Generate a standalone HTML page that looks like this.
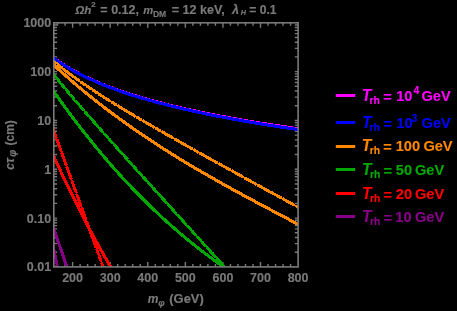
<!DOCTYPE html>
<html><head><meta charset="utf-8"><style>
html,body{margin:0;padding:0;background:#000;width:457px;height:311px;overflow:hidden}
svg{display:block;will-change:transform}
</style></head><body>
<svg width="457" height="311" viewBox="0 0 457 311">
<rect width="457" height="311" fill="#000"/>
<defs><clipPath id="pc"><rect x="53.80" y="22.80" width="244.30" height="244.10"/></clipPath></defs>
<path d="M57.56,266.90 v-3.00 M57.56,22.80 v3.00 M65.08,266.90 v-3.00 M65.08,22.80 v3.00 M72.59,266.90 v-5.00 M72.59,22.80 v5.00 M80.11,266.90 v-3.00 M80.11,22.80 v3.00 M87.63,266.90 v-3.00 M87.63,22.80 v3.00 M95.14,266.90 v-3.00 M95.14,22.80 v3.00 M102.66,266.90 v-3.00 M102.66,22.80 v3.00 M110.18,266.90 v-5.00 M110.18,22.80 v5.00 M117.69,266.90 v-3.00 M117.69,22.80 v3.00 M125.21,266.90 v-3.00 M125.21,22.80 v3.00 M132.73,266.90 v-3.00 M132.73,22.80 v3.00 M140.24,266.90 v-3.00 M140.24,22.80 v3.00 M147.76,266.90 v-5.00 M147.76,22.80 v5.00 M155.28,266.90 v-3.00 M155.28,22.80 v3.00 M162.80,266.90 v-3.00 M162.80,22.80 v3.00 M170.31,266.90 v-3.00 M170.31,22.80 v3.00 M177.83,266.90 v-3.00 M177.83,22.80 v3.00 M185.35,266.90 v-5.00 M185.35,22.80 v5.00 M192.86,266.90 v-3.00 M192.86,22.80 v3.00 M200.38,266.90 v-3.00 M200.38,22.80 v3.00 M207.90,266.90 v-3.00 M207.90,22.80 v3.00 M215.41,266.90 v-3.00 M215.41,22.80 v3.00 M222.93,266.90 v-5.00 M222.93,22.80 v5.00 M230.45,266.90 v-3.00 M230.45,22.80 v3.00 M237.96,266.90 v-3.00 M237.96,22.80 v3.00 M245.48,266.90 v-3.00 M245.48,22.80 v3.00 M253.00,266.90 v-3.00 M253.00,22.80 v3.00 M260.52,266.90 v-5.00 M260.52,22.80 v5.00 M268.03,266.90 v-3.00 M268.03,22.80 v3.00 M275.55,266.90 v-3.00 M275.55,22.80 v3.00 M283.07,266.90 v-3.00 M283.07,22.80 v3.00 M290.58,266.90 v-3.00 M290.58,22.80 v3.00 M53.80,252.20 h3.30 M298.10,252.20 h-3.30 M53.80,243.61 h3.30 M298.10,243.61 h-3.30 M53.80,237.51 h3.30 M298.10,237.51 h-3.30 M53.80,232.78 h3.30 M298.10,232.78 h-3.30 M53.80,228.91 h3.30 M298.10,228.91 h-3.30 M53.80,225.64 h3.30 M298.10,225.64 h-3.30 M53.80,222.81 h3.30 M298.10,222.81 h-3.30 M53.80,220.31 h3.30 M298.10,220.31 h-3.30 M53.80,218.08 h3.30 M298.10,218.08 h-3.30 M53.80,203.38 h3.30 M298.10,203.38 h-3.30 M53.80,194.79 h3.30 M298.10,194.79 h-3.30 M53.80,188.69 h3.30 M298.10,188.69 h-3.30 M53.80,183.96 h3.30 M298.10,183.96 h-3.30 M53.80,180.09 h3.30 M298.10,180.09 h-3.30 M53.80,176.82 h3.30 M298.10,176.82 h-3.30 M53.80,173.99 h3.30 M298.10,173.99 h-3.30 M53.80,171.49 h3.30 M298.10,171.49 h-3.30 M53.80,169.26 h3.30 M298.10,169.26 h-3.30 M53.80,154.56 h3.30 M298.10,154.56 h-3.30 M53.80,145.97 h3.30 M298.10,145.97 h-3.30 M53.80,139.87 h3.30 M298.10,139.87 h-3.30 M53.80,135.14 h3.30 M298.10,135.14 h-3.30 M53.80,131.27 h3.30 M298.10,131.27 h-3.30 M53.80,128.00 h3.30 M298.10,128.00 h-3.30 M53.80,125.17 h3.30 M298.10,125.17 h-3.30 M53.80,122.67 h3.30 M298.10,122.67 h-3.30 M53.80,120.44 h3.30 M298.10,120.44 h-3.30 M53.80,105.74 h3.30 M298.10,105.74 h-3.30 M53.80,97.15 h3.30 M298.10,97.15 h-3.30 M53.80,91.05 h3.30 M298.10,91.05 h-3.30 M53.80,86.32 h3.30 M298.10,86.32 h-3.30 M53.80,82.45 h3.30 M298.10,82.45 h-3.30 M53.80,79.18 h3.30 M298.10,79.18 h-3.30 M53.80,76.35 h3.30 M298.10,76.35 h-3.30 M53.80,73.85 h3.30 M298.10,73.85 h-3.30 M53.80,71.62 h3.30 M298.10,71.62 h-3.30 M53.80,56.92 h3.30 M298.10,56.92 h-3.30 M53.80,48.33 h3.30 M298.10,48.33 h-3.30 M53.80,42.23 h3.30 M298.10,42.23 h-3.30 M53.80,37.50 h3.30 M298.10,37.50 h-3.30 M53.80,33.63 h3.30 M298.10,33.63 h-3.30 M53.80,30.36 h3.30 M298.10,30.36 h-3.30 M53.80,27.53 h3.30 M298.10,27.53 h-3.30 M53.80,25.03 h3.30 M298.10,25.03 h-3.30" stroke="#7a7a7a" stroke-width="1.4" fill="none"/>
<g clip-path="url(#pc)" fill="none" stroke-linejoin="round" shape-rendering="crispEdges">
<path d="M51.80,56.32 L53.89,57.92 L55.97,59.45 L58.06,60.94 L60.15,62.37 L62.23,63.76 L64.32,65.10 L66.41,66.40 L68.49,67.66 L70.58,68.89 L72.67,70.08 L74.75,71.24 L76.84,72.37 L78.93,73.47 L81.01,74.54 L83.10,75.58 L85.18,76.60 L87.27,77.60 L89.36,78.57 L91.44,79.52 L93.53,80.45 L95.62,81.36 L97.70,82.25 L99.79,83.13 L101.88,83.98 L103.96,84.82 L106.05,85.64 L108.14,86.45 L110.22,87.24 L112.31,88.01 L114.40,88.78 L116.48,89.52 L118.57,90.26 L120.66,90.98 L122.74,91.69 L124.83,92.39 L126.92,93.08 L129.00,93.76 L131.09,94.43 L133.18,95.08 L135.26,95.73 L137.35,96.36 L139.44,96.99 L141.52,97.61 L143.61,98.22 L145.69,98.82 L147.78,99.41 L149.87,99.99 L151.95,100.57 L154.04,101.14 L156.13,101.70 L158.21,102.25 L160.30,102.80 L162.39,103.33 L164.47,103.87 L166.56,104.39 L168.65,104.91 L170.73,105.42 L172.82,105.93 L174.91,106.43 L176.99,106.93 L179.08,107.41 L181.17,107.90 L183.25,108.38 L185.34,108.85 L187.43,109.32 L189.51,109.78 L191.60,110.24 L193.69,110.69 L195.77,111.14 L197.86,111.58 L199.95,112.02 L202.03,112.45 L204.12,112.88 L206.21,113.30 L208.29,113.73 L210.38,114.14 L212.46,114.56 L214.55,114.96 L216.64,115.37 L218.72,115.77 L220.81,116.17 L222.90,116.56 L224.98,116.95 L227.07,117.34 L229.16,117.72 L231.24,118.10 L233.33,118.47 L235.42,118.85 L237.50,119.22 L239.59,119.58 L241.68,119.94 L243.76,120.30 L245.85,120.66 L247.94,121.01 L250.02,121.37 L252.11,121.71 L254.20,122.06 L256.28,122.40 L258.37,122.74 L260.46,123.08 L262.54,123.41 L264.63,123.74 L266.72,124.07 L268.80,124.40 L270.89,124.72 L272.97,125.04 L275.06,125.36 L277.15,125.68 L279.23,125.99 L281.32,126.31 L283.41,126.62 L285.49,126.92 L287.58,127.23 L289.67,127.53 L291.75,127.83 L293.84,128.13 L295.93,128.43 L298.01,128.72 L300.10,129.01" stroke="#ff00ff" stroke-width="3.10"/>
<path d="M51.80,56.46 L53.89,58.06 L55.97,59.61 L58.06,61.10 L60.15,62.54 L62.23,63.93 L64.32,65.28 L66.41,66.59 L68.49,67.86 L70.58,69.09 L72.67,70.29 L74.75,71.45 L76.84,72.59 L78.93,73.69 L81.01,74.77 L83.10,75.82 L85.18,76.84 L87.27,77.85 L89.36,78.82 L91.44,79.78 L93.53,80.72 L95.62,81.63 L97.70,82.53 L99.79,83.41 L101.88,84.27 L103.96,85.11 L106.05,85.94 L108.14,86.75 L110.22,87.55 L112.31,88.33 L114.40,89.10 L116.48,89.85 L118.57,90.60 L120.66,91.33 L122.74,92.04 L124.83,92.75 L126.92,93.44 L129.00,94.12 L131.09,94.80 L133.18,95.46 L135.26,96.11 L137.35,96.75 L139.44,97.39 L141.52,98.01 L143.61,98.62 L145.69,99.23 L147.78,99.83 L149.87,100.42 L151.95,101.00 L154.04,101.57 L156.13,102.14 L158.21,102.70 L160.30,103.25 L162.39,103.79 L164.47,104.33 L166.56,104.86 L168.65,105.39 L170.73,105.91 L172.82,106.42 L174.91,106.93 L176.99,107.43 L179.08,107.92 L181.17,108.41 L183.25,108.90 L185.34,109.38 L187.43,109.85 L189.51,110.32 L191.60,110.78 L193.69,111.24 L195.77,111.69 L197.86,112.14 L199.95,112.59 L202.03,113.03 L204.12,113.46 L206.21,113.89 L208.29,114.32 L210.38,114.74 L212.46,115.16 L214.55,115.57 L216.64,115.98 L218.72,116.39 L220.81,116.79 L222.90,117.19 L224.98,117.59 L227.07,117.98 L229.16,118.37 L231.24,118.76 L233.33,119.14 L235.42,119.52 L237.50,119.89 L239.59,120.26 L241.68,120.63 L243.76,121.00 L245.85,121.36 L247.94,121.72 L250.02,122.08 L252.11,122.43 L254.20,122.78 L256.28,123.13 L258.37,123.48 L260.46,123.82 L262.54,124.16 L264.63,124.50 L266.72,124.83 L268.80,125.16 L270.89,125.49 L272.97,125.82 L275.06,126.15 L277.15,126.47 L279.23,126.79 L281.32,127.11 L283.41,127.42 L285.49,127.74 L287.58,128.05 L289.67,128.36 L291.75,128.66 L293.84,128.97 L295.93,129.27 L298.01,129.57 L300.10,129.87" stroke="#0000ff" stroke-width="3.10"/>
<path d="M51.80,63.24 L53.89,65.16 L55.97,67.06 L58.06,68.95 L60.15,70.82 L62.23,72.68 L64.32,74.53 L66.41,76.36 L68.49,78.18 L70.58,79.99 L72.67,81.78 L74.75,83.56 L76.84,85.32 L78.93,87.08 L81.01,88.82 L83.10,90.54 L85.18,92.26 L87.27,93.96 L89.36,95.65 L91.44,97.33 L93.53,98.99 L95.62,100.65 L97.70,102.29 L99.79,103.92 L101.88,105.54 L103.96,107.14 L106.05,108.74 L108.14,110.32 L110.22,111.90 L112.31,113.46 L114.40,115.01 L116.48,116.55 L118.57,118.08 L120.66,119.60 L122.74,121.11 L124.83,122.61 L126.92,124.10 L129.00,125.58 L131.09,127.05 L133.18,128.51 L135.26,129.96 L137.35,131.40 L139.44,132.84 L141.52,134.26 L143.61,135.67 L145.69,137.08 L147.78,138.47 L149.87,139.86 L151.95,141.24 L154.04,142.61 L156.13,143.97 L158.21,145.33 L160.30,146.67 L162.39,148.01 L164.47,149.34 L166.56,150.67 L168.65,151.98 L170.73,153.29 L172.82,154.59 L174.91,155.89 L176.99,157.17 L179.08,158.45 L181.17,159.73 L183.25,161.00 L185.34,162.26 L187.43,163.51 L189.51,164.76 L191.60,166.00 L193.69,167.24 L195.77,168.47 L197.86,169.69 L199.95,170.91 L202.03,172.12 L204.12,173.33 L206.21,174.53 L208.29,175.73 L210.38,176.93 L212.46,178.11 L214.55,179.30 L216.64,180.48 L218.72,181.65 L220.81,182.82 L222.90,183.99 L224.98,185.15 L227.07,186.31 L229.16,187.46 L231.24,188.61 L233.33,189.76 L235.42,190.90 L237.50,192.04 L239.59,193.18 L241.68,194.32 L243.76,195.45 L245.85,196.58 L247.94,197.70 L250.02,198.83 L252.11,199.95 L254.20,201.07 L256.28,202.18 L258.37,203.30 L260.46,204.41 L262.54,205.52 L264.63,206.63 L266.72,207.74 L268.80,208.85 L270.89,209.95 L272.97,211.06 L275.06,212.16 L277.15,213.26 L279.23,214.37 L281.32,215.47 L283.41,216.57 L285.49,217.67 L287.58,218.77 L289.67,219.87 L291.75,220.97 L293.84,222.07 L295.93,223.17 L298.01,224.27 L300.10,225.38" stroke="#ff8800" stroke-width="3.10"/>
<path d="M51.80,59.36 L53.89,61.21 L55.97,63.01 L58.06,64.76 L60.15,66.48 L62.23,68.17 L64.32,69.82 L66.41,71.44 L68.49,73.03 L70.58,74.59 L72.67,76.14 L74.75,77.66 L76.84,79.15 L78.93,80.63 L81.01,82.09 L83.10,83.54 L85.18,84.97 L87.27,86.38 L89.36,87.78 L91.44,89.17 L93.53,90.54 L95.62,91.90 L97.70,93.26 L99.79,94.60 L101.88,95.93 L103.96,97.25 L106.05,98.57 L108.14,99.87 L110.22,101.17 L112.31,102.46 L114.40,103.75 L116.48,105.03 L118.57,106.30 L120.66,107.56 L122.74,108.82 L124.83,110.08 L126.92,111.33 L129.00,112.57 L131.09,113.81 L133.18,115.05 L135.26,116.28 L137.35,117.51 L139.44,118.74 L141.52,119.96 L143.61,121.17 L145.69,122.39 L147.78,123.60 L149.87,124.81 L151.95,126.01 L154.04,127.21 L156.13,128.41 L158.21,129.61 L160.30,130.81 L162.39,132.00 L164.47,133.19 L166.56,134.38 L168.65,135.56 L170.73,136.75 L172.82,137.93 L174.91,139.11 L176.99,140.29 L179.08,141.47 L181.17,142.64 L183.25,143.82 L185.34,144.99 L187.43,146.16 L189.51,147.33 L191.60,148.50 L193.69,149.67 L195.77,150.84 L197.86,152.00 L199.95,153.16 L202.03,154.33 L204.12,155.49 L206.21,156.65 L208.29,157.81 L210.38,158.97 L212.46,160.13 L214.55,161.29 L216.64,162.44 L218.72,163.60 L220.81,164.75 L222.90,165.91 L224.98,167.06 L227.07,168.21 L229.16,169.37 L231.24,170.52 L233.33,171.67 L235.42,172.82 L237.50,173.97 L239.59,175.12 L241.68,176.27 L243.76,177.42 L245.85,178.56 L247.94,179.71 L250.02,180.86 L252.11,182.01 L254.20,183.15 L256.28,184.30 L258.37,185.44 L260.46,186.59 L262.54,187.73 L264.63,188.88 L266.72,190.02 L268.80,191.16 L270.89,192.31 L272.97,193.45 L275.06,194.59 L277.15,195.73 L279.23,196.88 L281.32,198.02 L283.41,199.16 L285.49,200.30 L287.58,201.44 L289.67,202.58 L291.75,203.72 L293.84,204.86 L295.93,206.00 L298.01,207.14 L300.10,208.28" stroke="#ff8800" stroke-width="1.60"/>
<path d="M51.80,59.36 L53.89,61.21 L55.97,63.01 L58.06,64.76 L60.15,66.48 L62.23,68.17 L64.32,69.82 L66.41,71.44 L68.49,73.03 L70.58,74.59 L72.67,76.14 L74.75,77.66 L76.84,79.15 L78.93,80.63 L81.01,82.09 L83.10,83.54 L85.18,84.97 L87.27,86.38 L89.36,87.78 L91.44,89.17 L93.53,90.54 L95.62,91.90 L97.70,93.26 L99.79,94.60 L101.88,95.93 L103.96,97.25 L106.05,98.57 L108.14,99.87 L110.22,101.17 L112.31,102.46 L114.40,103.75 L116.48,105.03 L118.57,106.30 L120.66,107.56 L122.74,108.82 L124.83,110.08 L126.92,111.33 L129.00,112.57 L131.09,113.81 L133.18,115.05 L135.26,116.28 L137.35,117.51 L139.44,118.74 L141.52,119.96 L143.61,121.17 L145.69,122.39 L147.78,123.60 L149.87,124.81 L151.95,126.01 L154.04,127.21 L156.13,128.41 L158.21,129.61 L160.30,130.81 L162.39,132.00 L164.47,133.19 L166.56,134.38 L168.65,135.56 L170.73,136.75 L172.82,137.93 L174.91,139.11 L176.99,140.29 L179.08,141.47 L181.17,142.64 L183.25,143.82 L185.34,144.99 L187.43,146.16 L189.51,147.33 L191.60,148.50 L193.69,149.67 L195.77,150.84 L197.86,152.00 L199.95,153.16 L202.03,154.33 L204.12,155.49 L206.21,156.65 L208.29,157.81 L210.38,158.97 L212.46,160.13 L214.55,161.29 L216.64,162.44 L218.72,163.60 L220.81,164.75 L222.90,165.91 L224.98,167.06 L227.07,168.21 L229.16,169.37 L231.24,170.52 L233.33,171.67 L235.42,172.82 L237.50,173.97 L239.59,175.12 L241.68,176.27 L243.76,177.42 L245.85,178.56 L247.94,179.71 L250.02,180.86 L252.11,182.01 L254.20,183.15 L256.28,184.30 L258.37,185.44 L260.46,186.59 L262.54,187.73 L264.63,188.88 L266.72,190.02 L268.80,191.16 L270.89,192.31 L272.97,193.45 L275.06,194.59 L277.15,195.73 L279.23,196.88 L281.32,198.02 L283.41,199.16 L285.49,200.30 L287.58,201.44 L289.67,202.58 L291.75,203.72 L293.84,204.86 L295.93,206.00 L298.01,207.14 L300.10,208.28" stroke="#ff8800" stroke-width="3.00" stroke-dasharray="6.5 0.8"/>
<path d="M51.80,88.56 L53.89,91.56 L55.97,94.54 L58.06,97.49 L60.15,100.42 L62.23,103.32 L64.32,106.20 L66.41,109.06 L68.49,111.90 L70.58,114.71 L72.67,117.50 L74.75,120.27 L76.84,123.01 L78.93,125.73 L81.01,128.44 L83.10,131.11 L85.18,133.77 L87.27,136.41 L89.36,139.02 L91.44,141.61 L93.53,144.18 L95.62,146.73 L97.70,149.26 L99.79,151.76 L101.88,154.25 L103.96,156.71 L106.05,159.16 L108.14,161.58 L110.22,163.98 L112.31,166.36 L114.40,168.73 L116.48,171.07 L118.57,173.39 L120.66,175.69 L122.74,177.97 L124.83,180.23 L126.92,182.48 L129.00,184.70 L131.09,186.90 L133.18,189.09 L135.26,191.25 L137.35,193.40 L139.44,195.53 L141.52,197.63 L143.61,199.72 L145.69,201.80 L147.78,203.85 L149.87,205.88 L151.95,207.90 L154.04,209.90 L156.13,211.88 L158.21,213.84 L160.30,215.79 L162.39,217.72 L164.47,219.63 L166.56,221.52 L168.65,223.39 L170.73,225.25 L172.82,227.09 L174.91,228.92 L176.99,230.73 L179.08,232.52 L181.17,234.29 L183.25,236.05 L185.34,237.79 L187.43,239.52 L189.51,241.23 L191.60,242.92 L193.69,244.60 L195.77,246.26 L197.86,247.91 L199.95,249.54 L202.03,251.16 L204.12,252.76 L206.21,254.34 L208.29,255.92 L210.38,257.47 L212.46,259.01 L214.55,260.54 L216.64,262.05 L218.72,263.55 L220.81,265.03 L222.90,266.50 L224.98,267.96 L227.07,269.40 L229.16,270.83 L231.24,272.24 L233.33,273.64 L235.42,275.03 L237.50,276.41 L239.59,277.77 L241.68,279.11 L243.76,280.45 L245.85,281.77 L247.94,283.08 L250.02,284.38 L252.11,285.66 L254.20,286.93 L256.28,288.19 L258.37,289.44 L260.46,290.68 L262.54,291.90 L264.63,293.11 L266.72,294.31 L268.80,295.50 L270.89,296.68 L272.97,297.84 L275.06,299.00 L277.15,300.14 L279.23,301.27 L281.32,302.40 L283.41,303.51 L285.49,304.61 L287.58,305.70 L289.67,306.78 L291.75,307.85 L293.84,308.91 L295.93,309.96 L298.01,311.00 L300.10,312.03" stroke="#00a800" stroke-width="3.10"/>
<path d="M51.80,72.14 L53.89,74.77 L55.97,77.38 L58.06,79.96 L60.15,82.52 L62.23,85.05 L64.32,87.57 L66.41,90.07 L68.49,92.55 L70.58,95.02 L72.67,97.47 L74.75,99.92 L76.84,102.35 L78.93,104.77 L81.01,107.18 L83.10,109.59 L85.18,111.99 L87.27,114.38 L89.36,116.76 L91.44,119.14 L93.53,121.51 L95.62,123.88 L97.70,126.24 L99.79,128.60 L101.88,130.95 L103.96,133.30 L106.05,135.65 L108.14,137.99 L110.22,140.33 L112.31,142.67 L114.40,145.00 L116.48,147.34 L118.57,149.67 L120.66,151.99 L122.74,154.32 L124.83,156.65 L126.92,158.97 L129.00,161.29 L131.09,163.61 L133.18,165.93 L135.26,168.24 L137.35,170.56 L139.44,172.87 L141.52,175.19 L143.61,177.50 L145.69,179.81 L147.78,182.12 L149.87,184.43 L151.95,186.74 L154.04,189.05 L156.13,191.36 L158.21,193.67 L160.30,195.97 L162.39,198.28 L164.47,200.59 L166.56,202.89 L168.65,205.20 L170.73,207.50 L172.82,209.81 L174.91,212.11 L176.99,214.41 L179.08,216.72 L181.17,219.02 L183.25,221.33 L185.34,223.63 L187.43,225.93 L189.51,228.23 L191.60,230.54 L193.69,232.84 L195.77,235.14 L197.86,237.45 L199.95,239.75 L202.03,242.05 L204.12,244.35 L206.21,246.66 L208.29,248.96 L210.38,251.26 L212.46,253.56 L214.55,255.86 L216.64,258.17 L218.72,260.47 L220.81,262.77 L222.90,265.08 L224.98,267.38 L227.07,269.68 L229.16,271.98 L231.24,274.29 L233.33,276.59 L235.42,278.89 L237.50,281.20 L239.59,283.50 L241.68,285.80 L243.76,288.10 L245.85,290.41 L247.94,292.71 L250.02,295.02 L252.11,297.32 L254.20,299.62 L256.28,301.93 L258.37,304.23 L260.46,306.54 L262.54,308.84 L264.63,311.15 L266.72,313.45 L268.80,315.75 L270.89,318.06 L272.97,320.36 L275.06,322.67 L277.15,324.98 L279.23,327.28 L281.32,329.59 L283.41,331.89 L285.49,334.20 L287.58,336.50 L289.67,338.81 L291.75,341.12 L293.84,343.42 L295.93,345.73 L298.01,348.04 L300.10,350.34" stroke="#00a800" stroke-width="1.60"/>
<path d="M51.80,72.14 L53.89,74.77 L55.97,77.38 L58.06,79.96 L60.15,82.52 L62.23,85.05 L64.32,87.57 L66.41,90.07 L68.49,92.55 L70.58,95.02 L72.67,97.47 L74.75,99.92 L76.84,102.35 L78.93,104.77 L81.01,107.18 L83.10,109.59 L85.18,111.99 L87.27,114.38 L89.36,116.76 L91.44,119.14 L93.53,121.51 L95.62,123.88 L97.70,126.24 L99.79,128.60 L101.88,130.95 L103.96,133.30 L106.05,135.65 L108.14,137.99 L110.22,140.33 L112.31,142.67 L114.40,145.00 L116.48,147.34 L118.57,149.67 L120.66,151.99 L122.74,154.32 L124.83,156.65 L126.92,158.97 L129.00,161.29 L131.09,163.61 L133.18,165.93 L135.26,168.24 L137.35,170.56 L139.44,172.87 L141.52,175.19 L143.61,177.50 L145.69,179.81 L147.78,182.12 L149.87,184.43 L151.95,186.74 L154.04,189.05 L156.13,191.36 L158.21,193.67 L160.30,195.97 L162.39,198.28 L164.47,200.59 L166.56,202.89 L168.65,205.20 L170.73,207.50 L172.82,209.81 L174.91,212.11 L176.99,214.41 L179.08,216.72 L181.17,219.02 L183.25,221.33 L185.34,223.63 L187.43,225.93 L189.51,228.23 L191.60,230.54 L193.69,232.84 L195.77,235.14 L197.86,237.45 L199.95,239.75 L202.03,242.05 L204.12,244.35 L206.21,246.66 L208.29,248.96 L210.38,251.26 L212.46,253.56 L214.55,255.86 L216.64,258.17 L218.72,260.47 L220.81,262.77 L222.90,265.08 L224.98,267.38 L227.07,269.68 L229.16,271.98 L231.24,274.29 L233.33,276.59 L235.42,278.89 L237.50,281.20 L239.59,283.50 L241.68,285.80 L243.76,288.10 L245.85,290.41 L247.94,292.71 L250.02,295.02 L252.11,297.32 L254.20,299.62 L256.28,301.93 L258.37,304.23 L260.46,306.54 L262.54,308.84 L264.63,311.15 L266.72,313.45 L268.80,315.75 L270.89,318.06 L272.97,320.36 L275.06,322.67 L277.15,324.98 L279.23,327.28 L281.32,329.59 L283.41,331.89 L285.49,334.20 L287.58,336.50 L289.67,338.81 L291.75,341.12 L293.84,343.42 L295.93,345.73 L298.01,348.04 L300.10,350.34" stroke="#00a800" stroke-width="3.00" stroke-dasharray="6.5 0.8"/>
<path d="M51.80,152.08 L53.89,156.65 L55.97,161.19 L58.06,165.69 L60.15,170.15 L62.23,174.58 L64.32,178.97 L66.41,183.32 L68.49,187.64 L70.58,191.92 L72.67,196.16 L74.75,200.36 L76.84,204.53 L78.93,208.66 L81.01,212.76 L83.10,216.81 L85.18,220.84 L87.27,224.82 L89.36,228.77 L91.44,232.68 L93.53,236.55 L95.62,240.39 L97.70,244.19 L99.79,247.95 L101.88,251.67 L103.96,255.36 L106.05,259.01 L108.14,262.63 L110.22,266.21 L112.31,269.75 L114.40,273.25 L116.48,276.72 L118.57,280.15 L120.66,283.54 L122.74,286.90 L124.83,290.22 L126.92,293.50 L129.00,296.75 L131.09,299.96 L133.18,303.13 L135.26,306.27 L137.35,309.36 L139.44,312.43 L141.52,315.45 L143.61,318.44 L145.69,321.39 L147.78,324.30 L149.87,327.18 L151.95,330.02 L154.04,332.82 L156.13,335.59 L158.21,338.32 L160.30,341.01 L162.39,343.67 L164.47,346.28 L166.56,348.87 L168.65,351.41 L170.73,353.92 L172.82,356.39 L174.91,358.82 L176.99,361.22 L179.08,363.58 L181.17,365.91 L183.25,368.19 L185.34,370.44 L187.43,372.66 L189.51,374.83 L191.60,376.97 L193.69,379.07 L195.77,381.14 L197.86,383.17 L199.95,385.16 L202.03,387.11 L204.12,389.03 L206.21,390.91 L208.29,392.75 L210.38,394.56 L212.46,396.33 L214.55,398.06 L216.64,399.76 L218.72,401.42 L220.81,403.04 L222.90,404.63 L224.98,406.18 L227.07,407.69 L229.16,409.16 L231.24,410.60 L233.33,412.00 L235.42,413.37 L237.50,414.69 L239.59,415.98 L241.68,417.24 L243.76,418.45 L245.85,419.63 L247.94,420.78 L250.02,421.88 L252.11,422.95 L254.20,423.98 L256.28,424.98 L258.37,425.94 L260.46,426.86 L262.54,427.74 L264.63,428.59 L266.72,429.40 L268.80,430.18 L270.89,430.91 L272.97,431.61 L275.06,432.28 L277.15,432.90 L279.23,433.49 L281.32,434.04 L283.41,434.56 L285.49,435.04 L287.58,435.48 L289.67,435.89 L291.75,436.25 L293.84,436.58 L295.93,436.88 L298.01,437.14 L300.10,437.36" stroke="#ff0000" stroke-width="3.10"/>
<path d="M51.80,125.28 L53.89,131.07 L55.97,136.85 L58.06,142.63 L60.15,148.40 L62.23,154.17 L64.32,159.94 L66.41,165.70 L68.49,171.46 L70.58,177.22 L72.67,182.98 L74.75,188.74 L76.84,194.50 L78.93,200.25 L81.01,206.01 L83.10,211.77 L85.18,217.52 L87.27,223.28 L89.36,229.03 L91.44,234.79 L93.53,240.55 L95.62,246.31 L97.70,252.07 L99.79,257.83 L101.88,263.59 L103.96,269.35 L106.05,275.11 L108.14,280.87 L110.22,286.64 L112.31,292.40 L114.40,298.17 L116.48,303.93 L118.57,309.70 L120.66,315.47 L122.74,321.24 L124.83,327.01 L126.92,332.78 L129.00,338.55 L131.09,344.32 L133.18,350.09 L135.26,355.87 L137.35,361.64 L139.44,367.42 L141.52,373.20 L143.61,378.98 L145.69,384.76 L147.78,390.54 L149.87,396.32 L151.95,402.10 L154.04,407.88 L156.13,413.66 L158.21,419.45 L160.30,425.23 L162.39,431.02 L164.47,436.81 L166.56,442.59 L168.65,448.38 L170.73,454.17 L172.82,459.96 L174.91,465.75 L176.99,471.54 L179.08,477.33 L181.17,483.13 L183.25,488.92 L185.34,494.72 L187.43,500.51 L189.51,506.31 L191.60,512.10 L193.69,517.90 L195.77,523.70 L197.86,529.50 L199.95,535.30 L202.03,541.09 L204.12,546.90 L206.21,552.70 L208.29,558.50 L210.38,564.30 L212.46,570.10 L214.55,575.91 L216.64,581.71 L218.72,587.52 L220.81,593.32 L222.90,599.13 L224.98,604.93 L227.07,610.74 L229.16,616.55 L231.24,622.35 L233.33,628.16 L235.42,633.97 L237.50,639.78 L239.59,645.59 L241.68,651.40 L243.76,657.21 L245.85,663.02 L247.94,668.84 L250.02,674.65 L252.11,680.46 L254.20,686.28 L256.28,692.09 L258.37,697.90 L260.46,703.72 L262.54,709.53 L264.63,715.35 L266.72,721.17 L268.80,726.98 L270.89,732.80 L272.97,738.62 L275.06,744.44 L277.15,750.25 L279.23,756.07 L281.32,761.89 L283.41,767.71 L285.49,773.53 L287.58,779.35 L289.67,785.17 L291.75,790.99 L293.84,796.81 L295.93,802.64 L298.01,808.46 L300.10,814.28" stroke="#ff0000" stroke-width="1.60"/>
<path d="M51.80,125.28 L53.89,131.07 L55.97,136.85 L58.06,142.63 L60.15,148.40 L62.23,154.17 L64.32,159.94 L66.41,165.70 L68.49,171.46 L70.58,177.22 L72.67,182.98 L74.75,188.74 L76.84,194.50 L78.93,200.25 L81.01,206.01 L83.10,211.77 L85.18,217.52 L87.27,223.28 L89.36,229.03 L91.44,234.79 L93.53,240.55 L95.62,246.31 L97.70,252.07 L99.79,257.83 L101.88,263.59 L103.96,269.35 L106.05,275.11 L108.14,280.87 L110.22,286.64 L112.31,292.40 L114.40,298.17 L116.48,303.93 L118.57,309.70 L120.66,315.47 L122.74,321.24 L124.83,327.01 L126.92,332.78 L129.00,338.55 L131.09,344.32 L133.18,350.09 L135.26,355.87 L137.35,361.64 L139.44,367.42 L141.52,373.20 L143.61,378.98 L145.69,384.76 L147.78,390.54 L149.87,396.32 L151.95,402.10 L154.04,407.88 L156.13,413.66 L158.21,419.45 L160.30,425.23 L162.39,431.02 L164.47,436.81 L166.56,442.59 L168.65,448.38 L170.73,454.17 L172.82,459.96 L174.91,465.75 L176.99,471.54 L179.08,477.33 L181.17,483.13 L183.25,488.92 L185.34,494.72 L187.43,500.51 L189.51,506.31 L191.60,512.10 L193.69,517.90 L195.77,523.70 L197.86,529.50 L199.95,535.30 L202.03,541.09 L204.12,546.90 L206.21,552.70 L208.29,558.50 L210.38,564.30 L212.46,570.10 L214.55,575.91 L216.64,581.71 L218.72,587.52 L220.81,593.32 L222.90,599.13 L224.98,604.93 L227.07,610.74 L229.16,616.55 L231.24,622.35 L233.33,628.16 L235.42,633.97 L237.50,639.78 L239.59,645.59 L241.68,651.40 L243.76,657.21 L245.85,663.02 L247.94,668.84 L250.02,674.65 L252.11,680.46 L254.20,686.28 L256.28,692.09 L258.37,697.90 L260.46,703.72 L262.54,709.53 L264.63,715.35 L266.72,721.17 L268.80,726.98 L270.89,732.80 L272.97,738.62 L275.06,744.44 L277.15,750.25 L279.23,756.07 L281.32,761.89 L283.41,767.71 L285.49,773.53 L287.58,779.35 L289.67,785.17 L291.75,790.99 L293.84,796.81 L295.93,802.64 L298.01,808.46 L300.10,814.28" stroke="#ff0000" stroke-width="3.00" stroke-dasharray="6.5 0.8"/>
<path d="M51.80,223.23 L53.89,229.26 L55.97,235.29 L58.06,241.32 L60.15,247.36 L62.23,253.39 L64.32,259.42 L66.41,265.45 L68.49,271.48 L70.58,277.52 L72.67,283.55 L74.75,289.58 L76.84,295.61 L78.93,301.64 L81.01,307.67 L83.10,313.71 L85.18,319.74 L87.27,325.77 L89.36,331.80 L91.44,337.83 L93.53,343.86 L95.62,349.90 L97.70,355.93 L99.79,361.96 L101.88,367.99 L103.96,374.02 L106.05,380.05 L108.14,386.09 L110.22,392.12 L112.31,398.15 L114.40,404.18 L116.48,410.21 L118.57,416.25 L120.66,422.28 L122.74,428.31 L124.83,434.34 L126.92,440.37 L129.00,446.40 L131.09,452.44 L133.18,458.47 L135.26,464.50 L137.35,470.53 L139.44,476.56 L141.52,482.59 L143.61,488.63 L145.69,494.66 L147.78,500.69 L149.87,506.72 L151.95,512.75 L154.04,518.79 L156.13,524.82 L158.21,530.85 L160.30,536.88 L162.39,542.91 L164.47,548.94 L166.56,554.98 L168.65,561.01 L170.73,567.04 L172.82,573.07 L174.91,579.10 L176.99,585.13 L179.08,591.17 L181.17,597.20 L183.25,603.23 L185.34,609.26 L187.43,615.29 L189.51,621.33 L191.60,627.36 L193.69,633.39 L195.77,639.42 L197.86,645.45 L199.95,651.48 L202.03,657.52 L204.12,663.55 L206.21,669.58 L208.29,675.61 L210.38,681.64 L212.46,687.67 L214.55,693.71 L216.64,699.74 L218.72,705.77 L220.81,711.80 L222.90,717.83 L224.98,723.87 L227.07,729.90 L229.16,735.93 L231.24,741.96 L233.33,747.99 L235.42,754.02 L237.50,760.06 L239.59,766.09 L241.68,772.12 L243.76,778.15 L245.85,784.18 L247.94,790.21 L250.02,796.25 L252.11,802.28 L254.20,808.31 L256.28,814.34 L258.37,820.37 L260.46,826.40 L262.54,832.44 L264.63,838.47 L266.72,844.50 L268.80,850.53 L270.89,856.56 L272.97,862.60 L275.06,868.63 L277.15,874.66 L279.23,880.69 L281.32,886.72 L283.41,892.75 L285.49,898.79 L287.58,904.82 L289.67,910.85 L291.75,916.88 L293.84,922.91 L295.93,928.94 L298.01,934.98 L300.10,941.01" stroke="#880088" stroke-width="3.10"/>
<path d="M51.80,234.41 L53.89,247.01 L55.97,259.60 L58.06,272.19 L60.15,284.78 L62.23,297.37 L64.32,309.96 L66.41,322.55 L68.49,335.14 L70.58,347.74 L72.67,360.33 L74.75,372.92 L76.84,385.51 L78.93,398.10 L81.01,410.69 L83.10,423.28 L85.18,435.87 L87.27,448.47 L89.36,461.06 L91.44,473.65 L93.53,486.24 L95.62,498.83 L97.70,511.42 L99.79,524.01 L101.88,536.60 L103.96,549.20 L106.05,561.79 L108.14,574.38 L110.22,586.97 L112.31,599.56 L114.40,612.15 L116.48,624.74 L118.57,637.33 L120.66,649.93 L122.74,662.52 L124.83,675.11 L126.92,687.70 L129.00,700.29 L131.09,712.88 L133.18,725.47 L135.26,738.06 L137.35,750.66 L139.44,763.25 L141.52,775.84 L143.61,788.43 L145.69,801.02 L147.78,813.61 L149.87,826.20 L151.95,838.80 L154.04,851.39 L156.13,863.98 L158.21,876.57 L160.30,889.16 L162.39,901.75 L164.47,914.34 L166.56,926.93 L168.65,939.53 L170.73,952.12 L172.82,964.71 L174.91,977.30 L176.99,989.89 L179.08,1002.48 L181.17,1015.07 L183.25,1027.66 L185.34,1040.26 L187.43,1052.85 L189.51,1065.44 L191.60,1078.03 L193.69,1090.62 L195.77,1103.21 L197.86,1115.80 L199.95,1128.39 L202.03,1140.99 L204.12,1153.58 L206.21,1166.17 L208.29,1178.76 L210.38,1191.35 L212.46,1203.94 L214.55,1216.53 L216.64,1229.12 L218.72,1241.72 L220.81,1254.31 L222.90,1266.90 L224.98,1279.49 L227.07,1292.08 L229.16,1304.67 L231.24,1317.26 L233.33,1329.85 L235.42,1342.45 L237.50,1355.04 L239.59,1367.63 L241.68,1380.22 L243.76,1392.81 L245.85,1405.40 L247.94,1417.99 L250.02,1430.59 L252.11,1443.18 L254.20,1455.77 L256.28,1468.36 L258.37,1480.95 L260.46,1493.54 L262.54,1506.13 L264.63,1518.72 L266.72,1531.32 L268.80,1543.91 L270.89,1556.50 L272.97,1569.09 L275.06,1581.68 L277.15,1594.27 L279.23,1606.86 L281.32,1619.45 L283.41,1632.05 L285.49,1644.64 L287.58,1657.23 L289.67,1669.82 L291.75,1682.41 L293.84,1695.00 L295.93,1707.59 L298.01,1720.18 L300.10,1732.78" stroke="#880088" stroke-width="1.60"/>
<path d="M51.80,234.41 L53.89,247.01 L55.97,259.60 L58.06,272.19 L60.15,284.78 L62.23,297.37 L64.32,309.96 L66.41,322.55 L68.49,335.14 L70.58,347.74 L72.67,360.33 L74.75,372.92 L76.84,385.51 L78.93,398.10 L81.01,410.69 L83.10,423.28 L85.18,435.87 L87.27,448.47 L89.36,461.06 L91.44,473.65 L93.53,486.24 L95.62,498.83 L97.70,511.42 L99.79,524.01 L101.88,536.60 L103.96,549.20 L106.05,561.79 L108.14,574.38 L110.22,586.97 L112.31,599.56 L114.40,612.15 L116.48,624.74 L118.57,637.33 L120.66,649.93 L122.74,662.52 L124.83,675.11 L126.92,687.70 L129.00,700.29 L131.09,712.88 L133.18,725.47 L135.26,738.06 L137.35,750.66 L139.44,763.25 L141.52,775.84 L143.61,788.43 L145.69,801.02 L147.78,813.61 L149.87,826.20 L151.95,838.80 L154.04,851.39 L156.13,863.98 L158.21,876.57 L160.30,889.16 L162.39,901.75 L164.47,914.34 L166.56,926.93 L168.65,939.53 L170.73,952.12 L172.82,964.71 L174.91,977.30 L176.99,989.89 L179.08,1002.48 L181.17,1015.07 L183.25,1027.66 L185.34,1040.26 L187.43,1052.85 L189.51,1065.44 L191.60,1078.03 L193.69,1090.62 L195.77,1103.21 L197.86,1115.80 L199.95,1128.39 L202.03,1140.99 L204.12,1153.58 L206.21,1166.17 L208.29,1178.76 L210.38,1191.35 L212.46,1203.94 L214.55,1216.53 L216.64,1229.12 L218.72,1241.72 L220.81,1254.31 L222.90,1266.90 L224.98,1279.49 L227.07,1292.08 L229.16,1304.67 L231.24,1317.26 L233.33,1329.85 L235.42,1342.45 L237.50,1355.04 L239.59,1367.63 L241.68,1380.22 L243.76,1392.81 L245.85,1405.40 L247.94,1417.99 L250.02,1430.59 L252.11,1443.18 L254.20,1455.77 L256.28,1468.36 L258.37,1480.95 L260.46,1493.54 L262.54,1506.13 L264.63,1518.72 L266.72,1531.32 L268.80,1543.91 L270.89,1556.50 L272.97,1569.09 L275.06,1581.68 L277.15,1594.27 L279.23,1606.86 L281.32,1619.45 L283.41,1632.05 L285.49,1644.64 L287.58,1657.23 L289.67,1669.82 L291.75,1682.41 L293.84,1695.00 L295.93,1707.59 L298.01,1720.18 L300.10,1732.78" stroke="#880088" stroke-width="3.00" stroke-dasharray="4 1.2"/>
</g>
<rect x="53.80" y="22.80" width="244.30" height="244.10" fill="none" stroke="#7a7a7a" stroke-width="1.6"/>
<g fill="#7a7a7a" font-size="12.5" font-weight="bold" font-family="Liberation Sans, sans-serif" stroke="#7a7a7a" stroke-width="0.15"><text x="72.59" y="282.2" text-anchor="middle">200</text><text x="110.18" y="282.2" text-anchor="middle">300</text><text x="147.76" y="282.2" text-anchor="middle">400</text><text x="185.35" y="282.2" text-anchor="middle">500</text><text x="222.93" y="282.2" text-anchor="middle">600</text><text x="260.52" y="282.2" text-anchor="middle">700</text><text x="298.10" y="282.2" text-anchor="middle">800</text><text x="51.2" y="27.30" text-anchor="end">1000</text><text x="51.2" y="76.12" text-anchor="end">100</text><text x="51.2" y="124.94" text-anchor="end">10</text><text x="51.2" y="173.76" text-anchor="end">1</text><text x="51.2" y="222.58" text-anchor="end">0.10</text><text x="51.2" y="271.40" text-anchor="end">0.01</text></g>
<g font-family="Liberation Sans, sans-serif"><text x="75.26" y="13.70" font-size="11.60" fill="#7a7a7a" stroke="#7a7a7a" stroke-width="0.15" font-style="italic" font-weight="bold" xml:space="preserve">Ωh</text><text x="91.30" y="7.40" font-size="7.80" fill="#7a7a7a" stroke="#7a7a7a" stroke-width="0.15" font-weight="bold" xml:space="preserve">2</text><text x="100.36" y="13.70" font-size="12.50" fill="#7a7a7a" stroke="#7a7a7a" stroke-width="0.15" font-weight="bold" xml:space="preserve">= 0.12,</text><text x="143.28" y="13.70" font-size="11.20" fill="#7a7a7a" stroke="#7a7a7a" stroke-width="0.15" font-style="italic" font-weight="bold" xml:space="preserve">m</text><text x="152.90" y="16.60" font-size="8.60" fill="#7a7a7a" stroke="#7a7a7a" stroke-width="0.15" font-weight="bold" xml:space="preserve">DM</text><text x="171.75" y="13.70" font-size="12.60" fill="#7a7a7a" stroke="#7a7a7a" stroke-width="0.15" font-weight="bold" xml:space="preserve">= 12 keV,</text><text x="231.94" y="13.70" font-size="12.60" fill="#7a7a7a" stroke="#7a7a7a" stroke-width="0.15" font-style="italic" font-weight="bold" xml:space="preserve">λ</text><text x="240.65" y="14.90" font-size="7.20" fill="#7a7a7a" stroke="#7a7a7a" stroke-width="0.15" font-style="italic" font-weight="bold" xml:space="preserve">H</text><text x="249.27" y="13.70" font-size="12.10" fill="#7a7a7a" stroke="#7a7a7a" stroke-width="0.15" font-weight="bold" xml:space="preserve">= 0.1</text><text x="147.67" y="303.20" font-size="12.00" fill="#7a7a7a" stroke="#7a7a7a" stroke-width="0.15" font-style="italic" font-weight="bold" xml:space="preserve">m</text><text x="158.29" y="305.80" font-size="9.20" fill="#7a7a7a" stroke="#7a7a7a" stroke-width="0.15" font-style="italic" font-weight="bold" xml:space="preserve">φ</text><text x="169.33" y="303.20" font-size="12.90" fill="#7a7a7a" stroke="#7a7a7a" stroke-width="0.15" font-weight="bold" xml:space="preserve">(GeV)</text></g>
<g font-family="Liberation Sans, sans-serif" transform="translate(14.3,169.4) rotate(-90)"><text x="-0.29" y="0.00" font-size="12.00" fill="#7a7a7a" stroke="#7a7a7a" stroke-width="0.15" font-style="italic" font-weight="bold" xml:space="preserve">cτ</text><text x="12.76" y="1.20" font-size="10.00" fill="#7a7a7a" stroke="#7a7a7a" stroke-width="0.15" font-style="italic" font-weight="bold" xml:space="preserve">φ</text><text x="23.88" y="0.00" font-size="12.00" fill="#7a7a7a" stroke="#7a7a7a" stroke-width="0.15" font-weight="bold" xml:space="preserve">(cm)</text></g>
<g font-family="Liberation Sans, sans-serif"><path d="M335.8,95.50 H355.2" stroke="#ff00ff" stroke-width="3"/><text x="361.77" y="100.80" font-size="15.60" fill="#ff00ff" stroke="#ff00ff" stroke-width="0.15" font-style="italic" font-weight="bold" xml:space="preserve">T</text><text x="369.59" y="103.80" font-size="10.40" fill="#ff00ff" stroke="#ff00ff" stroke-width="0.15" font-weight="bold" xml:space="preserve">rh</text><text x="383.37" y="102.00" font-size="14.60" fill="#ff00ff" stroke="#ff00ff" stroke-width="0.15" font-weight="bold" xml:space="preserve">=</text><text x="396.26" y="100.80" font-size="14.60" fill="#ff00ff" stroke="#ff00ff" stroke-width="0.15" font-weight="bold" xml:space="preserve">10</text><text x="413.62" y="94.20" font-size="10.40" fill="#ff00ff" stroke="#ff00ff" stroke-width="0.15" font-weight="bold" xml:space="preserve">4</text><text x="421.48" y="100.80" font-size="14.60" fill="#ff00ff" stroke="#ff00ff" stroke-width="0.15" font-weight="bold" xml:space="preserve">GeV</text><path d="M335.8,122.50 H355.2" stroke="#0000ff" stroke-width="3"/><text x="361.97" y="128.10" font-size="15.60" fill="#0000ff" stroke="#0000ff" stroke-width="0.15" font-style="italic" font-weight="bold" xml:space="preserve">T</text><text x="369.49" y="131.10" font-size="10.40" fill="#0000ff" stroke="#0000ff" stroke-width="0.15" font-weight="bold" xml:space="preserve">rh</text><text x="383.47" y="129.30" font-size="14.60" fill="#0000ff" stroke="#0000ff" stroke-width="0.15" font-weight="bold" xml:space="preserve">=</text><text x="396.36" y="128.10" font-size="14.60" fill="#0000ff" stroke="#0000ff" stroke-width="0.15" font-weight="bold" xml:space="preserve">10</text><text x="411.44" y="121.50" font-size="10.40" fill="#0000ff" stroke="#0000ff" stroke-width="0.15" font-weight="bold" xml:space="preserve">3</text><text x="421.58" y="128.10" font-size="14.60" fill="#0000ff" stroke="#0000ff" stroke-width="0.15" font-weight="bold" xml:space="preserve">GeV</text><path d="M335.8,146.50 H355.2" stroke="#ff8800" stroke-width="3"/><text x="361.87" y="151.10" font-size="15.60" fill="#ff8800" stroke="#ff8800" stroke-width="0.15" font-style="italic" font-weight="bold" xml:space="preserve">T</text><text x="369.69" y="154.10" font-size="10.40" fill="#ff8800" stroke="#ff8800" stroke-width="0.15" font-weight="bold" xml:space="preserve">rh</text><text x="383.37" y="152.30" font-size="14.60" fill="#ff8800" stroke="#ff8800" stroke-width="0.15" font-weight="bold" xml:space="preserve">=</text><text x="395.76" y="151.10" font-size="14.60" fill="#ff8800" stroke="#ff8800" stroke-width="0.15" font-weight="bold" xml:space="preserve">100</text><text x="423.38" y="151.10" font-size="14.60" fill="#ff8800" stroke="#ff8800" stroke-width="0.15" font-weight="bold" xml:space="preserve">GeV</text><path d="M335.8,169.50 H355.2" stroke="#00a800" stroke-width="3"/><text x="361.97" y="174.50" font-size="15.60" fill="#00a800" stroke="#00a800" stroke-width="0.15" font-style="italic" font-weight="bold" xml:space="preserve">T</text><text x="369.89" y="177.50" font-size="10.40" fill="#00a800" stroke="#00a800" stroke-width="0.15" font-weight="bold" xml:space="preserve">rh</text><text x="383.47" y="175.70" font-size="14.60" fill="#00a800" stroke="#00a800" stroke-width="0.15" font-weight="bold" xml:space="preserve">=</text><text x="395.83" y="174.50" font-size="14.60" fill="#00a800" stroke="#00a800" stroke-width="0.15" font-weight="bold" xml:space="preserve">50</text><text x="414.98" y="174.50" font-size="14.60" fill="#00a800" stroke="#00a800" stroke-width="0.15" font-weight="bold" xml:space="preserve">GeV</text><path d="M335.8,193.50 H355.2" stroke="#ff0000" stroke-width="3"/><text x="361.97" y="198.50" font-size="15.60" fill="#ff0000" stroke="#ff0000" stroke-width="0.15" font-style="italic" font-weight="bold" xml:space="preserve">T</text><text x="369.89" y="201.50" font-size="10.40" fill="#ff0000" stroke="#ff0000" stroke-width="0.15" font-weight="bold" xml:space="preserve">rh</text><text x="383.47" y="199.70" font-size="14.60" fill="#ff0000" stroke="#ff0000" stroke-width="0.15" font-weight="bold" xml:space="preserve">=</text><text x="395.77" y="198.50" font-size="14.60" fill="#ff0000" stroke="#ff0000" stroke-width="0.15" font-weight="bold" xml:space="preserve">20</text><text x="414.98" y="198.50" font-size="14.60" fill="#ff0000" stroke="#ff0000" stroke-width="0.15" font-weight="bold" xml:space="preserve">GeV</text><path d="M335.8,216.50 H355.2" stroke="#880088" stroke-width="3"/><text x="361.97" y="221.50" font-size="15.60" fill="#880088" stroke="#880088" stroke-width="0.15" font-style="italic" font-weight="bold" xml:space="preserve">T</text><text x="369.89" y="224.50" font-size="10.40" fill="#880088" stroke="#880088" stroke-width="0.15" font-weight="bold" xml:space="preserve">rh</text><text x="383.47" y="222.70" font-size="14.60" fill="#880088" stroke="#880088" stroke-width="0.15" font-weight="bold" xml:space="preserve">=</text><text x="395.36" y="221.50" font-size="14.60" fill="#880088" stroke="#880088" stroke-width="0.15" font-weight="bold" xml:space="preserve">10</text><text x="414.98" y="221.50" font-size="14.60" fill="#880088" stroke="#880088" stroke-width="0.15" font-weight="bold" xml:space="preserve">GeV</text></g>
</svg></body></html>
